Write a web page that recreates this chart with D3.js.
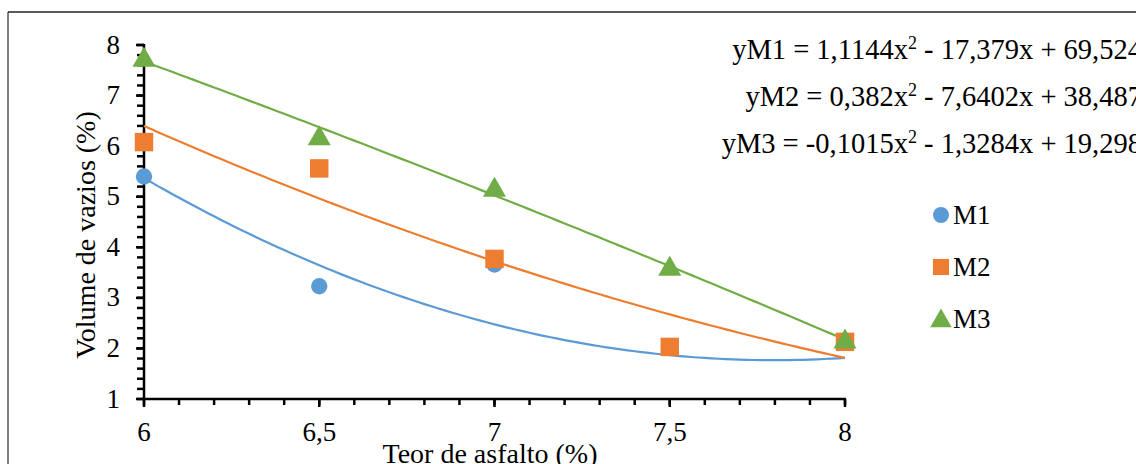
<!DOCTYPE html>
<html>
<head>
<meta charset="utf-8">
<script src="https://cdn.jsdelivr.net/npm/d3@7"></script>
<style>
  html, body { margin: 0; padding: 0; background: #fff; }
  svg { display: block; }
  text { font-family: "Liberation Serif", "Times New Roman", serif; }
</style>
</head>
<body>
<svg id="chart" width="1136" height="464"></svg>
<script>
// ---- data ----
const teorAsfalto = [6, 6.5, 7, 7.5, 8];
const seriesNames = ["M1", "M2", "M3"];
const valuesM1 = [5.4, 3.23, 3.66, 2.03, 2.13];
const valuesM2 = [6.08, 5.56, 3.77, 2.03, 2.13];
const valuesM3 = [7.74, 6.19, 5.17, 3.61, 2.17];
// trendline polynomial coefficients [a, b, c] for y = a x^2 + b x + c
const coefM1 = [1.1144, -17.379, 69.524];
const coefM2 = [0.382, -7.6402, 38.487];
const coefM3 = [-0.1015, -1.3284, 19.298];
const equationLabels = [
  ["yM1 = 1,1144x", " - 17,379x + 69,524"],
  ["yM2 = 0,382x", " - 7,6402x + 38,487"],
  ["yM3 = -0,1015x", " - 1,3284x + 19,298"]
];
const xTickValues = [6, 6.5, 7, 7.5, 8];
const yTickValues = [1, 2, 3, 4, 5, 6, 7, 8];
const xTitle = "Teor de asfalto (%)";
const yTitle = "Volume de vazios (%)";

const colors = ["#5B9BD5", "#ED7D31", "#70AD47"];
const shapes = [d3.symbolCircle, d3.symbolSquare, d3.symbolTriangle];
const FONT = "Liberation Serif";
const FS = 27;

const svg = d3.select("#chart");

// outer frame (chart area border, cropped at right/bottom)
svg.append("line").attr("x1", 8).attr("x2", 8).attr("y1", 12).attr("y2", 470)
  .attr("stroke", "#7f7f7f").attr("stroke-width", 2);
svg.append("line").attr("x1", 8).attr("x2", 1140).attr("y1", 12).attr("y2", 12)
  .attr("stroke", "#222").attr("stroke-width", 1.5);

const x = d3.scaleLinear().domain([6, 8]).range([144, 845]);
const y = d3.scaleLinear().domain([1, 8]).range([399, 45]);

const fmt = d => String(d).replace(".", ",");

// x ticks
const gx = svg.append("g");
gx.selectAll("line.minor").data(d3.range(6, 8.0001, 0.1))
  .join("line").attr("class", "minor")
  .attr("x1", d => x(d)).attr("x2", d => x(d))
  .attr("y1", 399).attr("y2", 405)
  .attr("stroke", "#000").attr("stroke-width", 2.5);
gx.selectAll("line.major").data(xTickValues)
  .join("line").attr("class", "major")
  .attr("x1", d => x(d)).attr("x2", d => x(d))
  .attr("y1", 399).attr("y2", 407)
  .attr("stroke", "#000").attr("stroke-width", 2.5);
gx.selectAll("text").data(xTickValues).join("text")
  .attr("x", d => x(d)).attr("y", 441)
  .attr("text-anchor", "middle").attr("font-family", FONT).attr("font-size", FS).attr("fill", "#000")
  .text(fmt);

// y ticks
const gy = svg.append("g");
gy.selectAll("line.minor").data(d3.range(1, 8.0001, 0.2))
  .join("line").attr("class", "minor")
  .attr("x1", 137).attr("x2", 144)
  .attr("y1", d => y(d)).attr("y2", d => y(d))
  .attr("stroke", "#000").attr("stroke-width", 2.5);
gy.selectAll("line.major").data(yTickValues)
  .join("line").attr("class", "major")
  .attr("x1", 136).attr("x2", 144)
  .attr("y1", d => y(d)).attr("y2", d => y(d))
  .attr("stroke", "#000").attr("stroke-width", 2.5);
gy.selectAll("text").data(yTickValues).join("text")
  .attr("x", 120).attr("y", d => y(d)).attr("dy", "0.32em")
  .attr("text-anchor", "end").attr("font-family", FONT).attr("font-size", FS).attr("fill", "#000")
  .text(fmt);

// axis lines
svg.append("line").attr("x1", 144).attr("x2", 144).attr("y1", y(8) - 1).attr("y2", 400)
  .attr("stroke", "#000").attr("stroke-width", 2.5);
svg.append("line").attr("x1", 143).attr("x2", x(8) + 1).attr("y1", 399).attr("y2", 399)
  .attr("stroke", "#000").attr("stroke-width", 2.5);

// axis titles
svg.append("text").attr("x", 490).attr("y", 463).attr("text-anchor", "middle")
  .attr("font-family", FONT).attr("font-size", 28).attr("fill", "#000").text(xTitle);
svg.append("text").attr("transform", "translate(95,235) rotate(-90)")
  .attr("text-anchor", "middle").attr("font-family", FONT).attr("font-size", 28)
  .attr("fill", "#000").text(yTitle);

const allValues = [valuesM1, valuesM2, valuesM3];
const coefs = [coefM1, coefM2, coefM3];

// trendlines
const line = d3.line().x(d => x(d[0])).y(d => y(d[1])).curve(d3.curveLinear);
coefs.forEach((c, i) => {
  const pts = d3.range(6, 8.0001, 0.02).map(t => [t, c[0] * t * t + c[1] * t + c[2]]);
  svg.append("path").attr("d", line(pts)).attr("fill", "none")
    .attr("stroke", colors[i]).attr("stroke-width", 2.2);
});

// markers
const markerSize = [210, 340, 230];
allValues.forEach((vals, i) => {
  svg.append("g").selectAll("path").data(vals).join("path")
    .attr("transform", (d, j) => `translate(${x(teorAsfalto[j])},${y(d) + (i === 2 ? 2 : 0)})`)
    .attr("d", d3.symbol().type(shapes[i]).size(markerSize[i]))
    .attr("fill", colors[i]);
});

// equations
equationLabels.forEach((eq, i) => {
  const t = svg.append("text").attr("x", 1142).attr("y", 59 + i * 47)
    .attr("text-anchor", "end").attr("font-family", FONT).attr("font-size", 28.5).attr("fill", "#000");
  t.append("tspan").text(eq[0]);
  t.append("tspan").attr("font-size", 18).attr("dy", -10).text("2");
  t.append("tspan").attr("dy", 10).text(eq[1]);
});

// legend
const legendSize = [200, 260, 200];
seriesNames.forEach((name, i) => {
  const ly = 215 + i * 52;
  svg.append("path").attr("transform", `translate(941,${ly + (i === 2 ? 2 : 0)})`)
    .attr("d", d3.symbol().type(shapes[i]).size(legendSize[i]))
    .attr("fill", colors[i]);
  svg.append("text").attr("x", 953).attr("y", ly + 9).attr("font-family", FONT).attr("font-size", FS)
    .attr("fill", "#000").text(name);
});
</script>
</body>
</html>
